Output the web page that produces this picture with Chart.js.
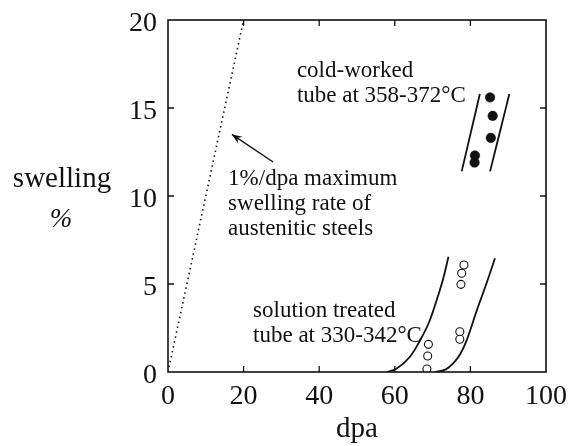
<!DOCTYPE html>
<html>
<head>
<meta charset="utf-8">
<script src="https://cdn.jsdelivr.net/npm/chart.js@4"></script>
<style>
  html, body { margin: 0; padding: 0; background: #fff; }
  #wrap { width: 571px; height: 446px; }
</style>
</head>
<body>
<div id="wrap"><canvas id="c" width="571" height="446"></canvas></div>
<script>
// Axis ticks
const dpaTicks = [0, 20, 40, 60, 80, 100];
const swellTicks = [0, 5, 10, 15, 20];

// 1%/dpa reference line
const maxRateDpa = [0, 20];
const maxRateSwell = [0, 20];

// Cold-worked tube, 358-372°C (filled circles)
const cwDpa = [85.2, 85.9, 85.4, 81.2, 81.1];
const cwSwell = [15.6, 14.55, 13.3, 12.3, 11.9];

// Cold-worked scatter band edges
const cwBandLeftDpa = [77.7, 82.5];
const cwBandLeftSwell = [11.4, 15.8];
const cwBandRightDpa = [85.2, 90.3];
const cwBandRightSwell = [11.4, 15.8];

// Solution treated tube, 330-342°C (open circles)
const stDpa = [78.3, 77.7, 77.5, 77.2, 77.2, 68.9, 68.7, 68.5];
const stSwell = [6.08, 5.61, 4.98, 2.29, 1.86, 1.57, 0.91, 0.17];

// Solution treated band edges (curves)
const stBandLeftDpa = [57.9, 60.5, 64.0, 66.7, 69.2, 71.1, 72.8, 74.2];
const stBandLeftSwell = [0, 0.2, 0.87, 1.8, 2.9, 4.1, 5.3, 6.55];
const stBandRightDpa = [70.6, 73.5, 75.5, 77.4, 79.0, 81.7, 84.2, 86.5];
const stBandRightSwell = [0, 0.15, 0.5, 1.05, 1.8, 3.5, 5.0, 6.46];

const pts = (xs, ys) => xs.map((x, i) => ({ x: x, y: ys[i] }));

const SERIF = '"Liberation Serif", "Times New Roman", serif';
const INK = '#111';

// Text notes placed in data coordinates
const notes = [
  { lines: ['cold-worked', 'tube at 358-372°C'], x: 34.1, y: 16.76 },
  { lines: ['1%/dpa maximum', 'swelling rate of', 'austenitic steels'], x: 15.9, y: 10.6 },
  { lines: ['solution treated', 'tube at 330-342°C'], x: 22.5, y: 3.1 }
];
const arrowNote = { from: [27.8, 11.93], to: [16.9, 13.5] };

const noEdgePad = s => { s.paddingLeft = 0; s.paddingRight = 0; s.paddingTop = 0; s.paddingBottom = 0; };

const framePlugin = {
  id: 'frame',
  afterDatasetsDraw(chart) {
    const { ctx, chartArea: a, scales } = chart;
    const sx = scales.x, sy = scales.y;
    ctx.save();
    ctx.strokeStyle = INK;
    ctx.lineWidth = 1.6;
    ctx.strokeRect(a.left, a.top, a.right - a.left, a.bottom - a.top);
    // inward ticks on all four sides
    ctx.lineWidth = 1.3;
    ctx.beginPath();
    dpaTicks.slice(1, -1).forEach(v => {
      const px = sx.getPixelForValue(v);
      ctx.moveTo(px, a.bottom); ctx.lineTo(px, a.bottom - 6);
      ctx.moveTo(px, a.top); ctx.lineTo(px, a.top + 6);
    });
    swellTicks.slice(1, -1).forEach(v => {
      const py = sy.getPixelForValue(v);
      ctx.moveTo(a.left, py); ctx.lineTo(a.left + 6, py);
      ctx.moveTo(a.right, py); ctx.lineTo(a.right - 6, py);
    });
    ctx.stroke();

    // arrow toward the reference line
    const x1 = sx.getPixelForValue(arrowNote.from[0]), y1 = sy.getPixelForValue(arrowNote.from[1]);
    const x2 = sx.getPixelForValue(arrowNote.to[0]), y2 = sy.getPixelForValue(arrowNote.to[1]);
    ctx.lineWidth = 1.4;
    ctx.beginPath(); ctx.moveTo(x1, y1); ctx.lineTo(x2, y2); ctx.stroke();
    const ang = Math.atan2(y2 - y1, x2 - x1);
    const hl = 11, hw = 0.38;
    ctx.fillStyle = INK;
    ctx.beginPath();
    ctx.moveTo(x2, y2);
    ctx.lineTo(x2 - hl * Math.cos(ang - hw), y2 - hl * Math.sin(ang - hw));
    ctx.lineTo(x2 - hl * 0.6 * Math.cos(ang), y2 - hl * 0.6 * Math.sin(ang));
    ctx.lineTo(x2 - hl * Math.cos(ang + hw), y2 - hl * Math.sin(ang + hw));
    ctx.closePath();
    ctx.fill();

    // notes
    ctx.font = '23px ' + SERIF;
    ctx.textAlign = 'left';
    ctx.textBaseline = 'alphabetic';
    notes.forEach(n => {
      const px = sx.getPixelForValue(n.x), py = sy.getPixelForValue(n.y);
      n.lines.forEach((t, i) => ctx.fillText(t, px, py + i * 25));
    });

    // vertical axis title, set horizontally
    ctx.font = '29px ' + SERIF;
    ctx.textAlign = 'center';
    ctx.fillText('swelling', 62, 187);
    ctx.font = 'italic 27px ' + SERIF;
    ctx.fillText('%', 61, 227);

    // horizontal axis title
    ctx.font = '29px ' + SERIF;
    ctx.fillText('dpa', sx.getPixelForValue(50), 437);
    ctx.restore();
  }
};

new Chart(document.getElementById('c'), {
  type: 'scatter',
  data: {
    datasets: [
      { data: pts(maxRateDpa, maxRateSwell), showLine: true, borderColor: INK, borderWidth: 1.6,
        borderDash: [1.5, 3.5], pointRadius: 0 },
      { data: pts(cwBandLeftDpa, cwBandLeftSwell), showLine: true, borderColor: INK, borderWidth: 1.8, pointRadius: 0 },
      { data: pts(cwBandRightDpa, cwBandRightSwell), showLine: true, borderColor: INK, borderWidth: 1.8, pointRadius: 0 },
      { data: pts(stBandLeftDpa, stBandLeftSwell), showLine: true, borderColor: INK, borderWidth: 1.8,
        pointRadius: 0, cubicInterpolationMode: 'monotone' },
      { data: pts(stBandRightDpa, stBandRightSwell), showLine: true, borderColor: INK, borderWidth: 1.8,
        pointRadius: 0, cubicInterpolationMode: 'monotone' },
      { data: pts(cwDpa, cwSwell), showLine: false, pointRadius: 4.8, pointBackgroundColor: INK,
        pointBorderColor: INK, pointBorderWidth: 0.5 },
      { data: pts(stDpa, stSwell), showLine: false, pointRadius: 4, pointBackgroundColor: '#fff',
        pointBorderColor: INK, pointBorderWidth: 1.1 }
    ]
  },
  options: {
    responsive: false,
    animation: false,
    events: [],
    layout: { padding: { top: 20, right: 25, left: 0, bottom: 0 } },
    plugins: { legend: { display: false }, tooltip: { enabled: false } },
    scales: {
      x: {
        type: 'linear', min: 0, max: 100,
        afterBuildTicks: s => { s.ticks = dpaTicks.map(v => ({ value: v })); },
        afterFit: s => { s.height = 74; noEdgePad(s); },
        grid: { display: false, drawTicks: false },
        border: { display: false },
        ticks: { color: INK, padding: 8, font: { family: SERIF, size: 28 } }
      },
      y: {
        type: 'linear', min: 0, max: 20,
        afterBuildTicks: s => { s.ticks = swellTicks.map(v => ({ value: v })); },
        afterFit: s => { s.width = 168; noEdgePad(s); },
        grid: { display: false, drawTicks: false },
        border: { display: false },
        ticks: { color: INK, padding: 11, labelOffset: 4, font: { family: SERIF, size: 28 } }
      }
    }
  },
  plugins: [framePlugin]
});
</script>
</body>
</html>
